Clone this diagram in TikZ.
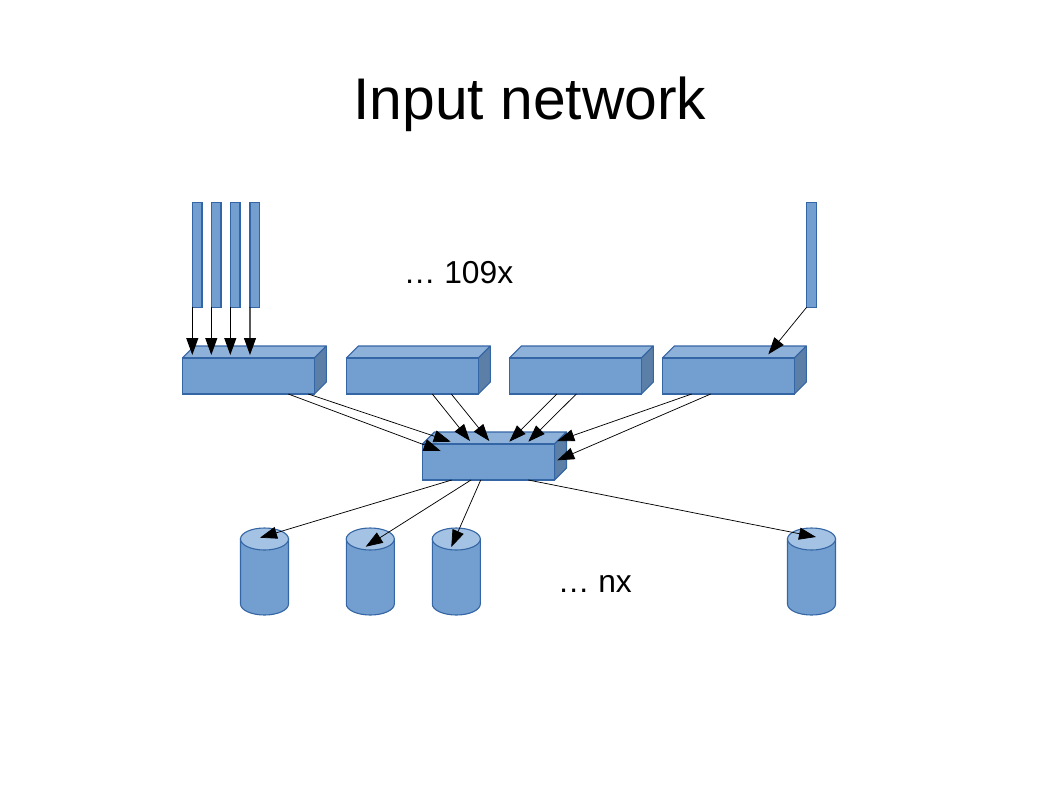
\documentclass[tikz,border=0pt]{standalone}
\usepackage{fontspec}
\setmainfont{Liberation Sans}
\usetikzlibrary{arrows.meta,calc}
\def\un{0.6805pt}
\definecolor{bluefill}{HTML}{729FCF}
\definecolor{blueline}{HTML}{3465A4}
\definecolor{bluetop}{HTML}{8EB1DA}
\definecolor{blueside}{HTML}{5B7FA6}
\definecolor{cyltop}{HTML}{A4C2E3}
\tikzset{
  face/.style={draw=blueline,fill=bluefill,line width=0.75pt,inner sep=0pt,outer sep=0pt,minimum width=132*\un,minimum height=36*\un,anchor=north west},
  barnode/.style={draw=blueline,fill=bluefill,line width=0.75pt,inner sep=0pt,outer sep=0pt,minimum width=9.7*\un,minimum height=105*\un,anchor=north west},
  cylnode/.style={inner sep=0pt,outer sep=0pt,minimum width=48*\un,minimum height=87*\un,anchor=north west},
  topface/.style={draw=blueline,fill=bluetop,line width=0.75pt,line join=round},
  sideface/.style={draw=blueline,fill=blueside,line width=0.75pt,line join=round},
  body/.style={draw=blueline,fill=bluefill,line width=0.75pt},
  lid/.style={draw=blueline,fill=cyltop,line width=0.75pt},
  arr/.style={draw=black,line width=0.5pt,-{Triangle[length=17*\un,width=12*\un]}},
  arrv/.style={draw=black,line width=0.7pt,-{Triangle[length=17*\un,width=12*\un]}},
  title/.style={font=\fontsize{40}{46}\selectfont,text=black,inner sep=0pt,anchor=base},
  note/.style={font=\fontsize{21.6}{26}\selectfont,text=black,inner sep=0pt,anchor=base west},
}
\newcommand{\cubeshape}[3]{%
  \fill[topface] (#2,#3) -- ++(12,-12) -- ++(132,0) -- ++(-12,12) -- cycle;
  \fill[sideface] (#2+132,#3) -- ++(12,-12) -- ++(0,36) -- ++(-12,12) -- cycle;
  \node[face] (#1) at (#2,#3) {};
}
\newcommand{\cylshape}[3]{%
  \node[cylnode] (#1) at (#2,#3) {};
  \path[body] (#1.north west) ++(0,11) -- ++(0,65) arc[start angle=180,end angle=360,x radius=24*\un,y radius=11*\un] -- ++(0,-65) -- cycle;
  \path[lid] ($(#1.north)+(0,11)$) ellipse[x radius=24*\un,y radius=11*\un];
}
\begin{document}
\begin{tikzpicture}[x=\un,y=-\un]
\useasboundingbox (0,0) rectangle (1058,794);
\node[title] (ttl) at (530,119) {Input network};
\node[note] (n109) at (403.5,283.5) {… 109x};
\node[note] (nnx) at (557.5,592) {… nx};
\node[barnode] (b1) at (192.3,202.3) {};
\node[barnode] (b2) at (211.3,202.3) {};
\node[barnode] (b3) at (230.3,202.3) {};
\node[barnode] (b4) at (250,202.3) {};
\node[barnode] (b5) at (806.6,202.3) {};
\cubeshape{c1}{182.3}{358}
\cubeshape{c2}{346.3}{358}
\cubeshape{c3}{509.3}{358}
\cubeshape{c4}{662.3}{358}
\cubeshape{hub}{422.5}{444}
\cylshape{d1}{240.5}{528}
\cylshape{d2}{346.3}{528}
\cylshape{d3}{432.3}{528}
\cylshape{d4}{787.5}{528}
% bars to first box
\draw[arrv] (b1.south west) -- ($(c1.north west)+(10,-3)$);
\draw[arrv] (b2.south west) -- ($(c1.north west)+(29,-3)$);
\draw[arrv] (b3.south west) -- ($(c1.north west)+(48,-3)$);
\draw[arrv] (b4.south west) -- ($(c1.north west)+(67.7,-3)$);
\draw[arr] (b5.south west) -- ($(c4.north west)+(106,-3.7)$);
% boxes to hub
\draw[arr] ($(c1.south west)+(106,0)$) -- ($(hub.north west)+(18.2,7)$);
\draw[arr] ($(c1.south west)+(126,0)$) -- ($(hub.north west)+(28.2,-2.3)$);
\draw[arr] ($(c2.south west)+(86,0)$) -- ($(hub.north west)+(47.5,-3)$);
\draw[arr] ($(c2.south west)+(105,0)$) -- ($(hub.north west)+(66.8,-3)$);
\draw[arr] ($(c3.south west)+(47.5,0)$) -- ($(hub.north west)+(86.8,-2.3)$);
\draw[arr] ($(c3.south west)+(67,0)$) -- ($(hub.north west)+(105.8,-2.3)$);
\draw[arr] ($(c4.south west)+(29.4,0)$) -- ($(hub.north east)+(2.8,-3)$);
\draw[arr] ($(c4.south west)+(48.4,0)$) -- ($(hub.north east)+(2.8,16.3)$);
% hub to drums
\draw[arr] ($(hub.south west)+(29.2,0)$) -- ($(d1.north west)+(19.5,9.7)$);
\draw[arr] ($(hub.south west)+(48.5,0)$) -- ($(d2.north west)+(19.4,18.7)$);
\draw[arr] ($(hub.south west)+(58.2,0)$) -- ($(d3.north west)+(19,19)$);
\draw[arr] ($(hub.south west)+(105.8,0)$) -- ($(d4.north west)+(28.5,9)$);
\end{tikzpicture}
\end{document}
